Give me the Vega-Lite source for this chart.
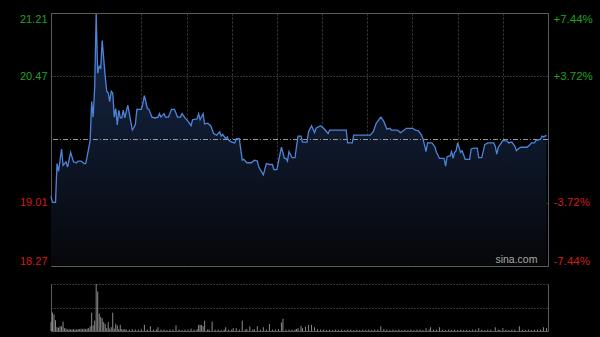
{
  "$schema": "https://vega.github.io/schema/vega-lite/v6.json",
  "background": "#000000",
  "padding": {"left": 14, "top": 10, "right": 12, "bottom": 5},
  "spacing": 16,
  "config": {
    "view": {"stroke": "#5c5c5c", "strokeWidth": 1},
    "font": "Liberation Sans",
    "axis": {"labelFont": "Liberation Sans", "ticks": false, "domain": false, "title": null}
  },
  "datasets": {
    "price": [
      {"t":0,"p":19.08},{"t":1,"p":19.01},{"t":3,"p":19.01},{"t":4,"p":19.46},{"t":5,"p":19.37},{"t":7,"p":19.63},{"t":8,"p":19.44},{"t":10,"p":19.48},{"t":11,"p":19.42},{"t":13,"p":19.59},{"t":15,"p":19.48},{"t":17,"p":19.47},{"t":18,"p":19.49},{"t":20,"p":19.49},{"t":22,"p":19.46},{"t":23,"p":19.46},{"t":24,"p":19.54},{"t":26,"p":19.73},{"t":27,"p":20.18},{"t":28,"p":20.00},{"t":29,"p":20.35},{"t":30,"p":21.20},{"t":31,"p":20.51},{"t":32,"p":20.59},{"t":33,"p":20.57},{"t":34,"p":20.89},{"t":36,"p":20.47},{"t":37,"p":20.30},{"t":38,"p":20.28},{"t":39,"p":20.18},{"t":40,"p":20.30},{"t":41,"p":20.28},{"t":42,"p":20.00},{"t":43,"p":20.10},{"t":44,"p":19.91},{"t":45,"p":20.08},{"t":46,"p":19.99},{"t":47,"p":19.99},{"t":48,"p":20.08},{"t":49,"p":19.99},{"t":51,"p":20.14},{"t":52,"p":20.04},{"t":54,"p":19.85},{"t":56,"p":19.91},{"t":57,"p":20.09},{"t":60,"p":20.09},{"t":61,"p":20.16},{"t":62,"p":20.25},{"t":64,"p":20.10},{"t":65,"p":20.09},{"t":67,"p":20.00},{"t":69,"p":19.99},{"t":71,"p":20.00},{"t":72,"p":20.04},{"t":73,"p":20.00},{"t":75,"p":20.04},{"t":76,"p":20.00},{"t":78,"p":20.00},{"t":80,"p":20.09},{"t":82,"p":20.09},{"t":84,"p":20.00},{"t":86,"p":20.00},{"t":87,"p":20.04},{"t":89,"p":19.99},{"t":91,"p":19.95},{"t":93,"p":19.90},{"t":94,"p":19.97},{"t":97,"p":19.98},{"t":98,"p":20.04},{"t":99,"p":19.97},{"t":101,"p":20.04},{"t":102,"p":19.92},{"t":104,"p":19.93},{"t":106,"p":19.90},{"t":108,"p":19.81},{"t":110,"p":19.79},{"t":112,"p":19.83},{"t":113,"p":19.78},{"t":114,"p":19.80},{"t":116,"p":19.75},{"t":117,"p":19.77},{"t":118,"p":19.73},{"t":120,"p":19.71},{"t":122,"p":19.70},{"t":123,"p":19.75},{"t":125,"p":19.75},{"t":127,"p":19.50},{"t":128,"p":19.51},{"t":130,"p":19.47},{"t":133,"p":19.47},{"t":135,"p":19.50},{"t":137,"p":19.49},{"t":138,"p":19.42},{"t":141,"p":19.33},{"t":143,"p":19.46},{"t":145,"p":19.45},{"t":147,"p":19.45},{"t":148,"p":19.39},{"t":150,"p":19.39},{"t":151,"p":19.48},{"t":153,"p":19.65},{"t":155,"p":19.52},{"t":156,"p":19.52},{"t":157,"p":19.49},{"t":158,"p":19.60},{"t":160,"p":19.53},{"t":162,"p":19.53},{"t":164,"p":19.78},{"t":166,"p":19.78},{"t":167,"p":19.71},{"t":170,"p":19.71},{"t":171,"p":19.83},{"t":173,"p":19.90},{"t":175,"p":19.82},{"t":176,"p":19.87},{"t":179,"p":19.90},{"t":181,"p":19.87},{"t":184,"p":19.81},{"t":185,"p":19.85},{"t":196,"p":19.85},{"t":197,"p":19.70},{"t":200,"p":19.70},{"t":201,"p":19.79},{"t":212,"p":19.79},{"t":214,"p":19.83},{"t":216,"p":19.93},{"t":219,"p":20.00},{"t":221,"p":19.95},{"t":223,"p":19.86},{"t":225,"p":19.87},{"t":226,"p":19.85},{"t":230,"p":19.85},{"t":232,"p":19.82},{"t":233,"p":19.83},{"t":236,"p":19.87},{"t":240,"p":19.87},{"t":242,"p":19.85},{"t":244,"p":19.84},{"t":246,"p":19.79},{"t":247,"p":19.75},{"t":249,"p":19.60},{"t":250,"p":19.70},{"t":253,"p":19.70},{"t":255,"p":19.65},{"t":256,"p":19.59},{"t":258,"p":19.52},{"t":261,"p":19.52},{"t":262,"p":19.43},{"t":263,"p":19.54},{"t":265,"p":19.55},{"t":266,"p":19.60},{"t":267,"p":19.52},{"t":268,"p":19.59},{"t":269,"p":19.61},{"t":270,"p":19.70},{"t":272,"p":19.59},{"t":273,"p":19.61},{"t":275,"p":19.51},{"t":278,"p":19.51},{"t":279,"p":19.63},{"t":281,"p":19.64},{"t":283,"p":19.64},{"t":284,"p":19.53},{"t":286,"p":19.53},{"t":288,"p":19.68},{"t":290,"p":19.70},{"t":294,"p":19.70},{"t":295,"p":19.66},{"t":296,"p":19.57},{"t":297,"p":19.65},{"t":299,"p":19.70},{"t":300,"p":19.73},{"t":303,"p":19.72},{"t":304,"p":19.70},{"t":306,"p":19.71},{"t":308,"p":19.66},{"t":309,"p":19.61},{"t":311,"p":19.64},{"t":312,"p":19.65},{"t":316,"p":19.65},{"t":318,"p":19.68},{"t":319,"p":19.70},{"t":321,"p":19.70},{"t":322,"p":19.73},{"t":325,"p":19.74},{"t":326,"p":19.78},{"t":327,"p":19.77},{"t":329,"p":19.79}
    ],
    "vol": [
      {"t":0,"v":19},{"t":1,"v":39},{"t":2,"v":35},{"t":3,"v":23},{"t":4,"v":8},{"t":5,"v":7},{"t":6,"v":10},{"t":7,"v":10},{"t":8,"v":20},{"t":9,"v":6},{"t":10,"v":5},{"t":11,"v":3},{"t":12,"v":4},{"t":13,"v":3},{"t":14,"v":3},{"t":15,"v":4},{"t":16,"v":3},{"t":17,"v":3},{"t":18,"v":4},{"t":19,"v":4},{"t":20,"v":5},{"t":21,"v":4},{"t":22,"v":5},{"t":23,"v":4},{"t":24,"v":5},{"t":25,"v":6},{"t":26,"v":10},{"t":27,"v":39},{"t":28,"v":12},{"t":29,"v":22},{"t":30,"v":100},{"t":31,"v":84},{"t":32,"v":37},{"t":33,"v":30},{"t":34,"v":27},{"t":35,"v":19},{"t":36,"v":15},{"t":37,"v":6},{"t":38,"v":19},{"t":39,"v":5},{"t":40,"v":8},{"t":41,"v":39},{"t":42,"v":5},{"t":43,"v":15},{"t":44,"v":12},{"t":45,"v":4},{"t":46,"v":13},{"t":47,"v":4},{"t":48,"v":3},{"t":49,"v":4},{"t":50,"v":3},{"t":52,"v":3},{"t":54,"v":4},{"t":56,"v":3},{"t":58,"v":3},{"t":60,"v":4},{"t":62,"v":13},{"t":64,"v":3},{"t":66,"v":10},{"t":68,"v":3},{"t":70,"v":3},{"t":71,"v":8},{"t":73,"v":3},{"t":75,"v":3},{"t":77,"v":2},{"t":79,"v":3},{"t":81,"v":3},{"t":83,"v":12},{"t":85,"v":3},{"t":87,"v":2},{"t":89,"v":3},{"t":91,"v":3},{"t":93,"v":5},{"t":95,"v":3},{"t":97,"v":4},{"t":98,"v":13},{"t":99,"v":13},{"t":100,"v":13},{"t":101,"v":10},{"t":102,"v":22},{"t":104,"v":3},{"t":105,"v":3},{"t":107,"v":20},{"t":109,"v":3},{"t":111,"v":3},{"t":113,"v":2},{"t":115,"v":3},{"t":116,"v":8},{"t":118,"v":3},{"t":120,"v":3},{"t":121,"v":6},{"t":123,"v":6},{"t":125,"v":3},{"t":127,"v":22},{"t":129,"v":3},{"t":130,"v":4},{"t":132,"v":10},{"t":134,"v":3},{"t":135,"v":4},{"t":137,"v":10},{"t":139,"v":3},{"t":141,"v":8},{"t":143,"v":3},{"t":145,"v":15},{"t":147,"v":3},{"t":149,"v":3},{"t":151,"v":4},{"t":153,"v":18},{"t":154,"v":26},{"t":156,"v":3},{"t":158,"v":3},{"t":160,"v":3},{"t":162,"v":3},{"t":163,"v":4},{"t":164,"v":6},{"t":166,"v":11},{"t":167,"v":6},{"t":169,"v":9},{"t":171,"v":13},{"t":173,"v":13},{"t":175,"v":8},{"t":177,"v":4},{"t":179,"v":3},{"t":181,"v":3},{"t":183,"v":2},{"t":185,"v":3},{"t":187,"v":2},{"t":189,"v":3},{"t":191,"v":2},{"t":193,"v":3},{"t":195,"v":2},{"t":197,"v":3},{"t":199,"v":3},{"t":201,"v":2},{"t":203,"v":3},{"t":205,"v":2},{"t":207,"v":3},{"t":209,"v":2},{"t":211,"v":3},{"t":213,"v":2},{"t":215,"v":3},{"t":217,"v":3},{"t":219,"v":10},{"t":221,"v":4},{"t":223,"v":3},{"t":225,"v":2},{"t":227,"v":3},{"t":229,"v":2},{"t":231,"v":3},{"t":233,"v":2},{"t":235,"v":3},{"t":237,"v":2},{"t":239,"v":3},{"t":241,"v":2},{"t":243,"v":3},{"t":245,"v":3},{"t":247,"v":2},{"t":249,"v":6},{"t":251,"v":3},{"t":252,"v":8},{"t":254,"v":3},{"t":256,"v":3},{"t":258,"v":8},{"t":260,"v":3},{"t":262,"v":2},{"t":264,"v":3},{"t":266,"v":2},{"t":268,"v":3},{"t":270,"v":2},{"t":272,"v":3},{"t":274,"v":2},{"t":276,"v":3},{"t":278,"v":2},{"t":280,"v":3},{"t":282,"v":3},{"t":284,"v":6},{"t":286,"v":3},{"t":288,"v":2},{"t":290,"v":3},{"t":292,"v":3},{"t":295,"v":8},{"t":297,"v":3},{"t":298,"v":2},{"t":300,"v":6},{"t":302,"v":3},{"t":304,"v":2},{"t":306,"v":3},{"t":308,"v":3},{"t":311,"v":10},{"t":313,"v":3},{"t":315,"v":2},{"t":317,"v":3},{"t":319,"v":2},{"t":321,"v":3},{"t":323,"v":3},{"t":325,"v":3},{"t":327,"v":8},{"t":329,"v":6}
    ],
    "ref": [{"chg": 0}],
    "brand": [{"label": "sina.com"}]
  },
  "vconcat": [
    {
      "width": 497,
      "height": 253,
      "layer": [
        {
          "data": {"name": "price"},
          "mark": {
            "type": "area",
            "color": {"gradient": "linear", "x1": 0, "y1": 0, "x2": 0, "y2": 1,
              "stops": [{"offset": 0, "color": "#172a4e"}, {"offset": 1, "color": "#060709"}]}
          },
          "encoding": {
            "x": {"field": "t", "type": "quantitative",
              "scale": {"domain": [0, 330], "nice": false, "zero": false},
              "axis": {"values": [30, 60, 90, 120, 150, 180, 210, 240, 270, 300], "labels": false, "grid": true,
                "gridColor": "#3e3e3e", "gridDash": [2, 2], "minExtent": 0, "maxExtent": 0}},
            "y": {"field": "p", "type": "quantitative",
              "scale": {"domain": [18.2713, 21.2087], "nice": false, "zero": false},
              "axis": {"orient": "left", "values": [18.2713, 19.0058, 20.4742, 21.2087], "format": ".2f",
                "labelFlush": true, "labelPadding": 4, "labelFontSize": 11, "minExtent": 36, "maxExtent": 36,
                "labelColor": {"condition": {"test": "datum.value > 19.74", "value": "#1ea41e"}, "value": "#d21a1a"},
                "grid": true, "gridColor": "#6a6a6a", "gridDash": [1, 2],
                "gridOpacity": {"condition": {"test": "abs(datum.value - 19.74) > 1", "value": 0}, "value": 1}}},
            "y2": {"datum": 18.2713}
          }
        },
        {
          "data": {"name": "ref"},
          "mark": {"type": "rule", "color": "#999999", "strokeDash": [5, 2, 1, 2], "strokeWidth": 1},
          "encoding": {
            "y": {"field": "chg", "type": "quantitative",
              "scale": {"domain": [-7.44, 7.44], "nice": false, "zero": false},
              "axis": {"orient": "right", "values": [-7.44, -3.72, 3.72, 7.44],
                "labelExpr": "(datum.value > 0 ? '+' : '-') + format(abs(datum.value), '.2f') + '%'",
                "labelFlush": true, "labelPadding": 5, "labelFontSize": 11.5, "minExtent": 40, "maxExtent": 40,
                "labelColor": {"condition": {"test": "datum.value > 0", "value": "#1ea41e"}, "value": "#d21a1a"},
                "grid": false}}
          }
        },
        {
          "data": {"name": "price"},
          "mark": {"type": "line", "color": "#4d84d8", "strokeWidth": 1.3},
          "encoding": {
            "x": {"field": "t", "type": "quantitative"},
            "y": {"field": "p", "type": "quantitative",
              "scale": {"domain": [18.2713, 21.2087], "nice": false, "zero": false}, "axis": null}
          }
        },
        {
          "data": {"name": "brand"},
          "mark": {"type": "text", "align": "right", "baseline": "bottom", "dy": -1, "color": "#a8a8a8",
            "fontSize": 10.5, "font": "Liberation Sans"},
          "encoding": {
            "x": {"datum": 323, "type": "quantitative"},
            "y": {"datum": 18.2713, "type": "quantitative",
              "scale": {"domain": [18.2713, 21.2087], "nice": false, "zero": false}, "axis": null},
            "text": {"field": "label"}
          }
        }
      ],
      "resolve": {"scale": {"y": "independent"}, "axis": {"y": "independent"}}
    },
    {
      "width": 497,
      "height": 47,
      "view": {"stroke": null},
      "data": {"name": "vol"},
      "layer": [
        {
          "mark": {"type": "rule", "color": "#8a8a8a", "strokeWidth": 1},
          "encoding": {
            "x": {"field": "t", "type": "quantitative",
              "scale": {"domain": [0, 330], "nice": false, "zero": false},
              "axis": {"labels": false, "grid": false, "domain": true, "domainColor": "#5c5c5c", "minExtent": 0, "maxExtent": 0}},
            "y": {"field": "v", "type": "quantitative",
              "scale": {"domain": [0, 100], "nice": false},
              "axis": {"orient": "left", "values": [0, 50, 100], "labels": false, "domain": true, "domainColor": "#5c5c5c",
                "grid": true, "gridColor": "#6a6a6a", "gridDash": [1, 2], "minExtent": 36, "maxExtent": 36}},
            "y2": {"datum": 0}
          }
        },
        {
          "mark": {"type": "rule", "opacity": 0},
          "encoding": {
            "x": {"field": "t", "type": "quantitative"},
            "y": {"field": "v", "type": "quantitative",
              "axis": {"orient": "right", "labels": false, "domain": true, "domainColor": "#5c5c5c", "grid": false,
                "minExtent": 40, "maxExtent": 40}}
          }
        }
      ],
      "resolve": {"axis": {"y": "independent"}}
    }
  ]
}
